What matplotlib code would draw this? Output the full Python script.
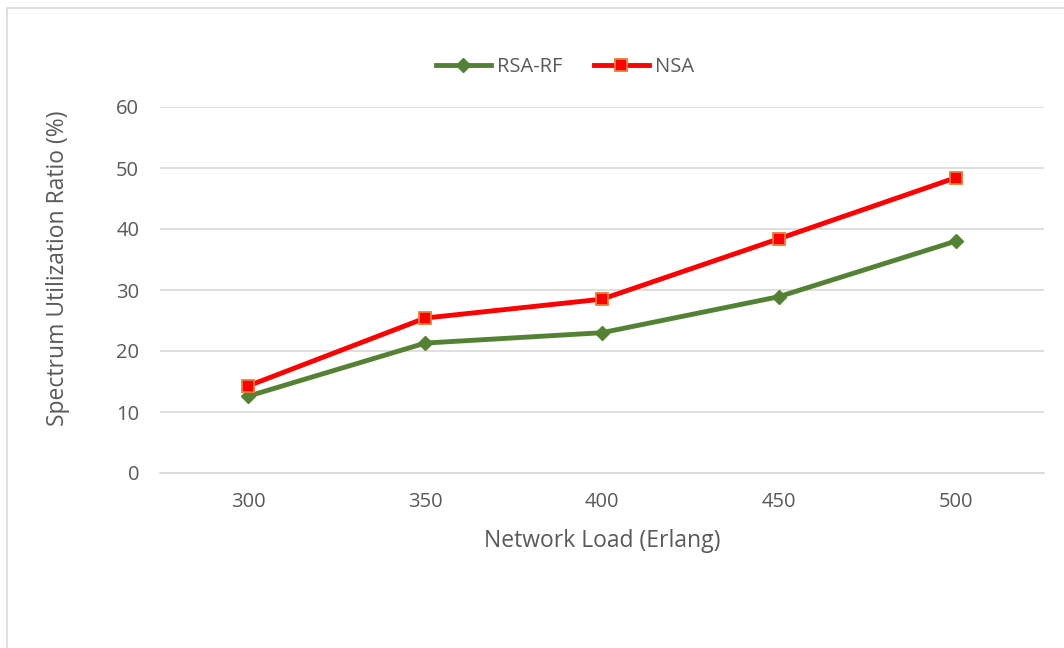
import matplotlib
matplotlib.use("Agg")
import matplotlib.pyplot as plt
from matplotlib.patches import Rectangle

plt.rcParams['font.family'] = ['Open Sans', 'DejaVu Sans']

# data
loads = ["300", "350", "400", "450", "500"]
rsa_rf = [12.6, 21.3, 23.0, 28.9, 38.0]
nsa = [14.3, 25.4, 28.5, 38.4, 48.4]

text_color = "#595959"
grid_color = "#d9d9d9"

fig = plt.figure(figsize=(10.64, 6.48), dpi=100)

# light outer border of the chart area (partly cropped on the right/bottom)
fig.patches.append(Rectangle((7 / 1064, -0.05), 1.2, 1 - 8 / 648 + 0.05,
                             transform=fig.transFigure, fill=False,
                             edgecolor=grid_color, linewidth=1.2))

ax = fig.add_axes([160 / 1064, 175 / 648, 884 / 1064, 366 / 648])
x = range(len(loads))

ax.plot(x, rsa_rf, color="#548235", linewidth=3.5, marker="D", markersize=7,
        markerfacecolor="#548235", markeredgecolor="#548235", label="RSA-RF",
        zorder=3)
ax.plot(x, nsa, color="#ff0000", linewidth=3.5, marker="s", markersize=9,
        markerfacecolor="#ff0000", markeredgecolor="#ed7d31",
        markeredgewidth=1.3, label="NSA", zorder=4)

ax.set_xlim(-0.5, len(loads) - 0.5)
ax.set_ylim(0, 60)
ax.set_yticks(range(0, 61, 10))
ax.set_xticks(list(x))
ax.set_xticklabels(loads)

ax.grid(axis="y", color=grid_color, linewidth=1.2)
ax.set_axisbelow(True)
for s in ["top", "right", "left"]:
    ax.spines[s].set_visible(False)
ax.spines["bottom"].set_color(grid_color)
ax.spines["bottom"].set_linewidth(1.2)
ax.tick_params(axis="both", length=0, labelsize=14.5, colors=text_color)
ax.tick_params(axis="y", pad=15)
ax.tick_params(axis="x", pad=14)

ax.set_xlabel("Network Load (Erlang)", fontsize=16.5, color=text_color, labelpad=12)
ax.set_ylabel("Spectrum Utilization Ratio (%)", fontsize=16.5, color=text_color)
# label sits a bit above the axis centre in the original
ax.yaxis.set_label_coords(-0.102, 0.56)

leg = fig.legend(loc="center", bbox_to_anchor=(565 / 1064, 1 - 67 / 648), ncol=2,
                 frameon=False, fontsize=14.5, handlelength=2.7, columnspacing=1.6,
                 handletextpad=0.3)
for t in leg.get_texts():
    t.set_color(text_color)

fig.savefig("out.png", dpi=100, facecolor="white")
